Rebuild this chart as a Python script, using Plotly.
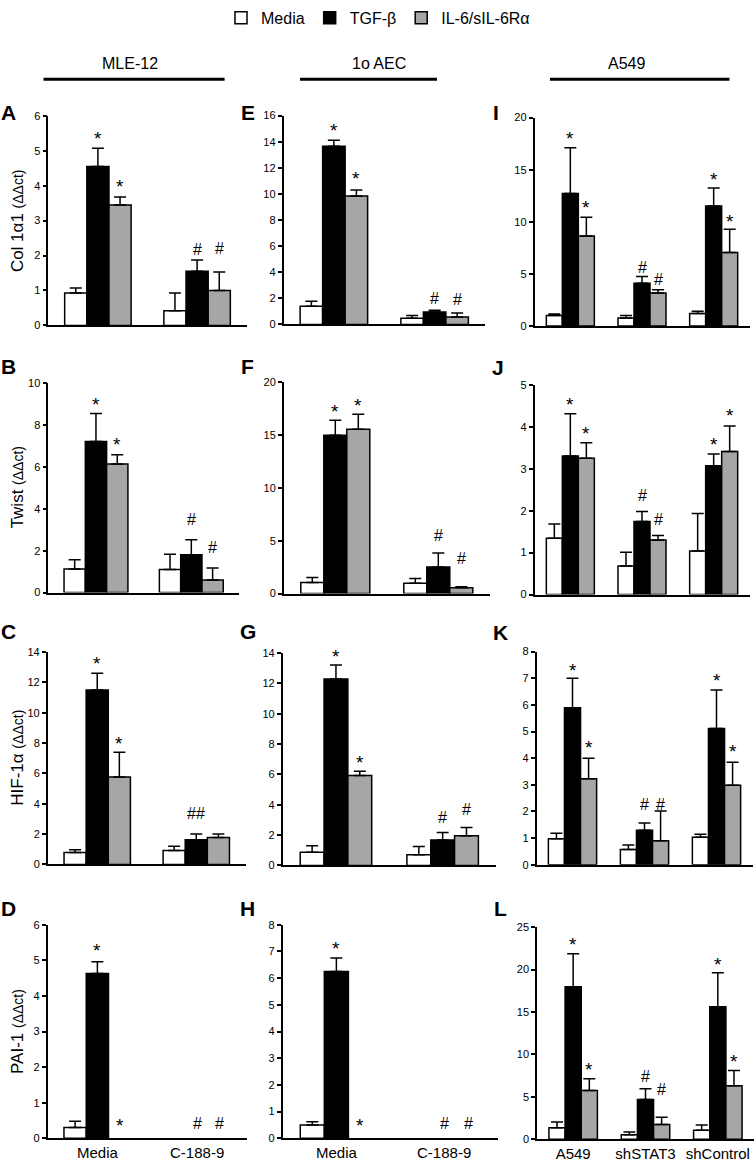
import plotly.graph_objects as go

# ---------------- data ----------------
series_names = ["Media", "TGF-β", "IL-6/sIL-6Rα"]
cats_mle = ["Media", "C-188-9"]
cats_a549 = ["A549", "shSTAT3", "shControl"]

# MLE-12  (None = no visible bar)
A_media = [0.93, 0.42]; A_media_err = [0.14, 0.51]
A_tgf = [4.55, 1.55];   A_tgf_err = [0.52, 0.32]
A_il6 = [3.45, 1.00];   A_il6_err = [0.23, 0.53]
A_sig_tgf = ["*", "#"]; A_sig_il6 = ["*", "#"]

B_media = [1.13, 1.10]; B_media_err = [0.44, 0.73]
B_tgf = [7.21, 1.81];   B_tgf_err = [1.34, 0.71]
B_il6 = [6.14, 0.60];   B_il6_err = [0.44, 0.57]
B_sig_tgf = ["*", "#"]; B_sig_il6 = ["*", "#"]

C_media = [0.78, 0.91]; C_media_err = [0.18, 0.29]
C_tgf = [11.50, 1.63];  C_tgf_err = [1.10, 0.37]
C_il6 = [5.76, 1.78];   C_il6_err = [1.63, 0.22]
C_sig_tgf = ["*", "##"]; C_sig_il6 = ["*", ""]

D_media = [0.30, None]; D_media_err = [0.18, 0.0]
D_tgf = [4.63, None];   D_tgf_err = [0.33, 0.0]
D_il6 = [None, None];   D_il6_err = [0.0, 0.0]
D_sig_tgf = ["*", "#"]; D_sig_il6 = ["*", "#"]

# 1o AEC
E_media = [1.39, 0.48]; E_media_err = [0.38, 0.20]
E_tgf = [13.65, 0.94];  E_tgf_err = [0.45, 0.15]
E_il6 = [9.83, 0.56];   E_il6_err = [0.46, 0.32]
E_sig_tgf = ["*", "#"]; E_sig_il6 = ["*", "#"]

F_media = [1.06, 0.97]; F_media_err = [0.47, 0.46]
F_tgf = [14.98, 2.52];  F_tgf_err = [1.41, 1.31]
F_il6 = [15.55, 0.56];  F_il6_err = [1.40, 0.09]
F_sig_tgf = ["*", "#"]; F_sig_il6 = ["*", "#"]

G_media = [0.87, 0.70]; G_media_err = [0.43, 0.54]
G_tgf = [12.28, 1.67];  G_tgf_err = [0.92, 0.50]
G_il6 = [5.93, 1.96];   G_il6_err = [0.27, 0.54]
G_sig_tgf = ["*", "#"]; G_sig_il6 = ["*", "#"]

H_media = [0.50, None]; H_media_err = [0.12, 0.0]
H_tgf = [6.25, None];   H_tgf_err = [0.50, 0.0]
H_il6 = [None, None];   H_il6_err = [0.0, 0.0]
H_sig_tgf = ["*", "#"]; H_sig_il6 = ["*", "#"]

# A549
I_media = [1.01, 0.76, 1.20]; I_media_err = [0.13, 0.25, 0.22]
I_tgf = [12.72, 4.11, 11.52]; I_tgf_err = [4.37, 0.64, 1.71]
I_il6 = [8.64, 3.16, 7.06];   I_il6_err = [1.80, 0.32, 2.21]
I_sig_tgf = ["*", "#", "*"];  I_sig_il6 = ["*", "#", "*"]

J_media = [1.34, 0.68, 1.04]; J_media_err = [0.34, 0.33, 0.89]
J_tgf = [3.30, 1.74, 3.07];   J_tgf_err = [1.01, 0.24, 0.28]
J_il6 = [3.25, 1.30, 3.41];   J_il6_err = [0.37, 0.11, 0.61]
J_sig_tgf = ["*", "#", "*"];  J_sig_il6 = ["*", "#", "*"]

K_media = [0.98, 0.57, 1.03]; K_media_err = [0.20, 0.17, 0.12]
K_tgf = [5.89, 1.30, 5.11];   K_tgf_err = [1.11, 0.27, 1.45]
K_il6 = [3.23, 0.90, 2.98];   K_il6_err = [0.77, 1.12, 0.87]
K_sig_tgf = ["*", "#", "*"];  K_sig_il6 = ["*", "#", "*"]

L_media = [1.36, 0.54, 1.05]; L_media_err = [0.66, 0.32, 0.62]
L_tgf = [17.96, 4.67, 15.63]; L_tgf_err = [3.89, 1.28, 4.00]
L_il6 = [5.75, 1.75, 6.30];   L_il6_err = [1.37, 0.85, 1.79]
L_sig_tgf = ["*", "#", "*"];  L_sig_il6 = ["*", "#", "*"]

y_titles = ["Col 1α1", "Twist", "HIF-1α", "PAI-1"]
col_headers = ["MLE-12", "1o AEC", "A549"]

# ---------------- layout config (pixels) ----------------
W, H = 756, 1168
FONT = "Liberation Sans, Arial, Helvetica, sans-serif"
bar_colors = ["#ffffff", "#000000", "#a6a6a6"]
BARGAP = 0.33

panels = [
    dict(L="A", cats=cats_mle, d=(A_media, A_media_err, A_tgf, A_tgf_err, A_il6, A_il6_err), sig=(A_sig_tgf, A_sig_il6),
         dom=(48.3, 246.7, 111.0, 322.7), ymax=6, dt=1, lp=(8.5, 107.5), gaps=([13, 12], [13, 24])),
    dict(L="B", cats=cats_mle, d=(B_media, B_media_err, B_tgf, B_tgf_err, B_il6, B_il6_err), sig=(B_sig_tgf, B_sig_il6),
         dom=(48.3, 239.0, 381.0, 592.7), ymax=10, dt=2, lp=(8.5, 364), gaps=([12, 21], [13, 22])),
    dict(L="C", cats=cats_mle, d=(C_media, C_media_err, C_tgf, C_tgf_err, C_il6, C_il6_err), sig=(C_sig_tgf, C_sig_il6),
         dom=(47.7, 245.8, 652.7, 867.3), ymax=14, dt=2, lp=(8.5, 632), gaps=([13, 22], [12, 0])),
    dict(L="D", cats=cats_mle, d=(D_media, D_media_err, D_tgf, D_tgf_err, D_il6, D_il6_err), sig=(D_sig_tgf, D_sig_il6),
         dom=(47.5, 247.0, 928.3, 1144.0), ymax=6, dt=1, lp=(8.5, 912), gaps=([14, 16], [16, 16])),
    dict(L="E", cats=cats_mle, d=(E_media, E_media_err, E_tgf, E_tgf_err, E_il6, E_il6_err), sig=(E_sig_tgf, E_sig_il6),
         dom=(283.5, 485.0, 110.7, 321.7), ymax=16, dt=2, lp=(247.5, 107.5), gaps=([13, 13], [15, 14])),
    dict(L="F", cats=cats_mle, d=(F_media, F_media_err, F_tgf, F_tgf_err, F_il6, F_il6_err), sig=(F_sig_tgf, F_sig_il6),
         dom=(283.8, 489.8, 380.0, 593.7), ymax=20, dt=5, lp=(247.5, 364), gaps=([12, 19], [12, 29])),
    dict(L="G", cats=cats_mle, d=(G_media, G_media_err, G_tgf, G_tgf_err, G_il6, G_il6_err), sig=(G_sig_tgf, G_sig_il6),
         dom=(282.6, 496.0, 653.7, 868.3), ymax=14, dt=2, lp=(248, 632), gaps=([12, 16], [12, 19])),
    dict(L="H", cats=cats_mle, d=(H_media, H_media_err, H_tgf, H_tgf_err, H_il6, H_il6_err), sig=(H_sig_tgf, H_sig_il6),
         dom=(282.5, 498.0, 928.3, 1144.0), ymax=8, dt=1, lp=(247.5, 912), gaps=([13, 16], [16, 16])),
    dict(L="I", cats=cats_a549, d=(I_media, I_media_err, I_tgf, I_tgf_err, I_il6, I_il6_err), sig=(I_sig_tgf, I_sig_il6),
         dom=(534.5, 749.5, 112.7, 323.3), ymax=20, dt=5, lp=(496, 108), gaps=([12, 10, 12], [13, 11, 11])),
    dict(L="J", cats=cats_a549, d=(J_media, J_media_err, J_tgf, J_tgf_err, J_il6, J_il6_err), sig=(J_sig_tgf, J_sig_il6),
         dom=(534.5, 749.5, 382.7, 594.7), ymax=5, dt=1, lp=(498, 365), gaps=([12, 17, 13], [12, 17, 13])),
    dict(L="K", cats=cats_a549, d=(K_media, K_media_err, K_tgf, K_tgf_err, K_il6, K_il6_err), sig=(K_sig_tgf, K_sig_il6),
         dom=(536.5, 752.5, 652.3, 867.7), ymax=8, dt=1, lp=(500, 633), gaps=([11, 19, 12], [14, 7, 14])),
    dict(L="L", cats=cats_a549, d=(L_media, L_media_err, L_tgf, L_tgf_err, L_il6, L_il6_err), sig=(L_sig_tgf, L_sig_il6),
         dom=(537.0, 754.0, 930.7, 1145.0), ymax=25, dt=5, lp=(500, 912), gaps=([12, 13, 11], [12, 29, 12])),
]
bottom_row = {"D", "H", "L"}
first_col = {"A": 0, "B": 1, "C": 2, "D": 3}


def fx(p):
    return p / W


def fy(p):
    return 1 - p / H


fig = go.Figure()
annotations = []
shapes = []
layout_axes = {}
bw = (1 - BARGAP) / 3.0

for i, p in enumerate(panels, start=1):
    xa, ya = f"x{i}", f"y{i}"
    xname = "xaxis" if i == 1 else f"xaxis{i}"
    yname = "yaxis" if i == 1 else f"yaxis{i}"
    n = len(p["cats"])
    xs = list(range(n))
    vals = [p["d"][0], p["d"][2], p["d"][4]]
    errs = [p["d"][1], p["d"][3], p["d"][5]]
    for s in range(3):
        fig.add_trace(go.Bar(
            x=xs, y=vals[s], name=series_names[s], xaxis=xa, yaxis=ya,
            marker=dict(color=bar_colors[s], line=dict(color="black", width=1.5)),
            error_y=dict(type="data", symmetric=False, array=errs[s], arrayminus=[0] * n,
                         color="black", thickness=1.5, width=6),
            showlegend=(i == 1), legendgroup=series_names[s], hoverinfo="skip",
        ))
    x0, x1, yt, yb = p["dom"]
    layout_axes[xname] = dict(
        domain=[fx(x0), fx(x1)], anchor=ya, range=[-0.5, n - 0.5],
        tickmode="array", tickvals=xs, ticktext=p["cats"],
        showticklabels=p["L"] in bottom_row, ticks="",
        showline=True, linecolor="black", linewidth=2,
        showgrid=False, zeroline=False, fixedrange=True,
        tickfont=dict(size=15, color="black", family=FONT),
    )
    layout_axes[yname] = dict(
        domain=[fy(yb), fy(yt)], anchor=xa, range=[0, p["ymax"]], dtick=p["dt"], tick0=0,
        ticks="outside", ticklen=4, tickwidth=1.5, tickcolor="black",
        showline=True, linecolor="black", linewidth=1.5,
        showgrid=False, zeroline=False, fixedrange=True,
        tickfont=dict(size=11, color="black", family=FONT),
    )
    # significance marks
    for s, (sig, gp) in enumerate(zip(p["sig"], p["gaps"]), start=1):
        for c in range(n):
            t = sig[c]
            if not t:
                continue
            top = (vals[s][c] or 0) + errs[s][c]
            star = t == "*"
            annotations.append(dict(
                x=c + (s - 1) * bw, y=top, xref=xa, yref=ya, text=t, showarrow=False,
                xanchor="center", yanchor="middle", yshift=gp[c] + (-3 if star else -1),
                font=dict(size=19 if star else 16, color="black", family=FONT),
            ))
    # panel letter
    annotations.append(dict(
        x=fx(p["lp"][0]), y=fy(p["lp"][1]), xref="paper", yref="paper", text=f"<b>{p['L']}</b>",
        showarrow=False, xanchor="center", yanchor="middle",
        font=dict(size=21, color="black", family=FONT),
    ))
    # y title (first column)
    if p["L"] in first_col:
        annotations.append(dict(
            x=fx(17.5), y=fy((yt + yb) / 2), xref="paper", yref="paper",
            text=f"{y_titles[first_col[p['L']]]} <span style='font-size:14px'>(ΔΔct)</span>",
            textangle=-90, showarrow=False, xanchor="center", yanchor="middle",
            font=dict(size=17, color="black", family=FONT),
        ))

# column headers with rules
header_px = [(130, 43.5, 224.6), (379, 300, 437), (626, 550, 729.5)]
for txt, (cx, lx0, lx1) in zip(col_headers, header_px):
    annotations.append(dict(
        x=fx(cx), y=fy(58), xref="paper", yref="paper", text=txt, showarrow=False,
        xanchor="center", yanchor="middle", font=dict(size=16, color="black", family=FONT),
    ))
    shapes.append(dict(type="line", xref="paper", yref="paper",
                       x0=fx(lx0), x1=fx(lx1), y0=fy(74), y1=fy(74),
                       line=dict(color="black", width=3)))

fig.update_layout(
    width=W, height=H, margin=dict(l=0, r=0, t=0, b=0),
    paper_bgcolor="white", plot_bgcolor="white",
    barmode="group", bargap=BARGAP, bargroupgap=0,
    font=dict(family=FONT, color="black"),
    annotations=annotations, shapes=shapes,
    legend=dict(orientation="h", x=0.5, xanchor="center", y=fy(12), yanchor="middle",
                font=dict(size=16, color="black", family=FONT), traceorder="normal",
                bgcolor="rgba(0,0,0,0)", itemclick=False, itemdoubleclick=False),
    **layout_axes,
)

fig.write_html("out.html", config={"displayModeBar": False},
               post_script="document.body.style.margin='0';document.body.style.overflow='hidden';")
